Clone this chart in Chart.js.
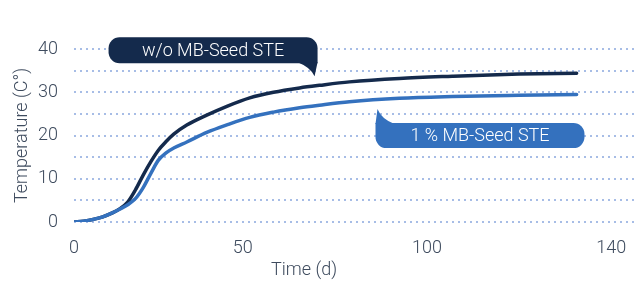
<!DOCTYPE html>
<html>
<head>
<meta charset="utf-8">
<script src="https://cdn.jsdelivr.net/npm/chart.js@4.4.1/dist/chart.umd.min.js"></script>
<style>
  html, body { margin: 0; padding: 0; background: #fff; }
  canvas { display: block; }
</style>
</head>
<body>
<canvas id="chart" width="640" height="282"></canvas>
<script>
// time in days
const days = [0, 2.5, 5, 7.5, 10, 12, 14, 16, 18, 20, 22, 24, 26, 29.4, 34.6, 40, 45.8, 52, 58.8, 64, 71.8, 84.8, 98.6, 116, 131];
const tempNoSeed = [0, 0.2, 0.6, 1.2, 2.1, 3.1, 4.6, 7.4, 10.8, 13.9, 16.6, 18.6, 20.3, 22.4, 24.7, 26.8, 28.7, 30.0, 31.0, 31.6, 32.4, 33.2, 33.7, 34.2, 34.4];
const tempSeed = [0, 0.2, 0.6, 1.2, 2.1, 3.0, 4.0, 5.4, 7.9, 11.2, 14.3, 16.0, 17.1, 18.5, 20.7, 22.5, 24.2, 25.4, 26.4, 27.0, 27.8, 28.6, 29.0, 29.3, 29.5];
const seriesNames = ['w/o MB-Seed STE', '1 % MB-Seed STE'];

// the x labels are not evenly spaced in the original
const xTickValues = [0, 44, 92, 140];
const xTickLabels = ['0', '50', '100', '140'];

const NAVY = '#142a4c';
const BLUE = '#3471be';
const TEXT = '#3e4b5e';
const FONT = "'Roboto', 'Liberation Sans', sans-serif";

const toPoints = (ys) => days.map((d, i) => ({x: d, y: ys[i]}));

// speech bubble labels + x axis title
const calloutPlugin = {
    id: 'callouts',
    afterDatasetsDraw(chart) {
        const {ctx, scales: {x, y}, chartArea} = chart;
        ctx.save();
        ctx.font = '300 18px ' + FONT;
        ctx.textAlign = 'center';
        ctx.textBaseline = 'middle';

        // dark one, tail points down to the upper curve
        let tx = x.getPixelForValue(62.7), ty = y.getPixelForValue(33.7);
        let bx = tx - 206, by = ty - 39, bw = 209, bh = 26;
        ctx.fillStyle = NAVY;
        ctx.beginPath();
        ctx.roundRect(bx, by, bw, bh, [11, 11, 0, 11]);
        ctx.fill();
        ctx.beginPath();
        ctx.moveTo(tx - 17, ty - 14);
        ctx.quadraticCurveTo(tx - 4, ty - 9, tx, ty);
        ctx.lineTo(tx + 3, ty - 14);
        ctx.closePath();
        ctx.fill();
        ctx.fillStyle = '#fff';
        ctx.fillText(seriesNames[0], bx + bw / 2, by + bh / 2 + 1);

        // blue one, tail points up to the lower curve
        tx = x.getPixelForValue(79.1); ty = y.getPixelForValue(26.1);
        bx = tx - 2; by = ty + 14; bw = 209; bh = 25;
        ctx.fillStyle = BLUE;
        ctx.beginPath();
        ctx.roundRect(bx, by, bw, bh, [0, 11, 11, 11]);
        ctx.fill();
        ctx.beginPath();
        ctx.moveTo(tx - 2, ty + 15);
        ctx.lineTo(tx, ty);
        ctx.quadraticCurveTo(tx + 4, ty + 10, tx + 17, ty + 15);
        ctx.closePath();
        ctx.fill();
        ctx.fillStyle = '#fff';
        ctx.fillText(seriesNames[1], bx + bw / 2, by + bh / 2 + 1);

        // x title sits left of centre in the original
        ctx.fillStyle = TEXT;
        ctx.fillText('Time (d)', chartArea.left + 230, chartArea.bottom + 48);
        ctx.restore();
    }
};

new Chart(document.getElementById('chart'), {
    type: 'line',
    data: {
        datasets: [
            {
                label: seriesNames[0],
                data: toPoints(tempNoSeed),
                borderColor: NAVY,
                borderWidth: 3.5,
                borderCapStyle: 'round',
                pointRadius: 0,
                cubicInterpolationMode: 'monotone',
                order: 1
            },
            {
                label: seriesNames[1],
                data: toPoints(tempSeed),
                borderColor: BLUE,
                borderWidth: 3.5,
                borderCapStyle: 'round',
                pointRadius: 0,
                cubicInterpolationMode: 'monotone',
                order: 0
            }
        ]
    },
    options: {
        responsive: false,
        animation: false,
        layout: {padding: {top: 49, right: 2, left: 8, bottom: 0}},
        plugins: {
            legend: {display: false},
            tooltip: {enabled: false}
        },
        scales: {
            x: {
                type: 'linear',
                min: 0,
                max: 147,
                afterBuildTicks: (scale) => {
                    scale.ticks = xTickValues.map(v => ({value: v}));
                },
                afterFit: (scale) => { scale.height = 60; },
                ticks: {
                    color: TEXT,
                    font: {family: FONT, size: 18, weight: 300},
                    padding: 8,
                    maxRotation: 0,
                    autoSkip: false,
                    callback: (value, index) => xTickLabels[index]
                },
                grid: {display: false},
                border: {display: false}
            },
            y: {
                min: 0,
                max: 40,
                afterFit: (scale) => { scale.width = 66; },
                ticks: {
                    stepSize: 5,
                    autoSkip: false,
                    color: TEXT,
                    font: {family: FONT, size: 18, weight: 300},
                    padding: 16,
                    callback: (v) => (v % 10 === 0 ? v : '')
                },
                grid: {
                    color: '#a7bde6',
                    lineWidth: 2,
                    drawTicks: false
                },
                border: {display: false, dash: [2, 4]},
                title: {
                    display: true,
                    text: 'Temperature (C°)',
                    color: TEXT,
                    font: {family: FONT, size: 18, weight: 300},
                    padding: {top: 4, bottom: 4}
                }
            }
        }
    },
    plugins: [calloutPlugin]
});
</script>
</body>
</html>
